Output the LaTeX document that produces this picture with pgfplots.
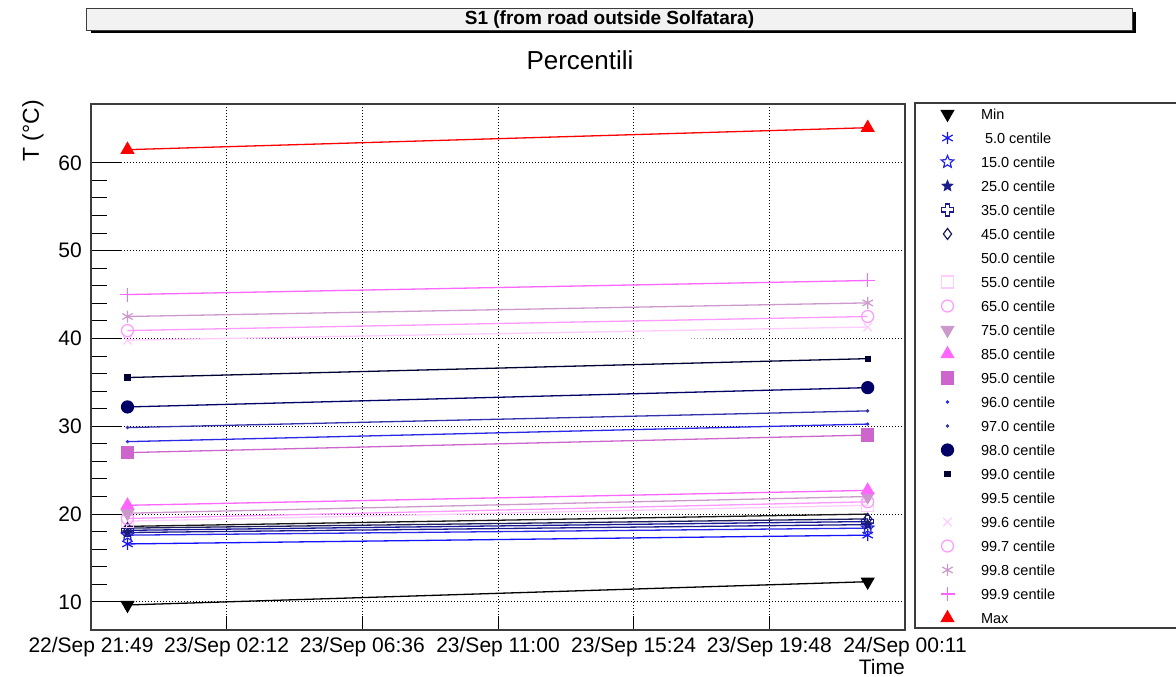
\documentclass[border=0pt]{standalone}
\usepackage{fontspec}
\setmainfont{Liberation Sans}
\usepackage{pgfplots}
\pgfplotsset{compat=1.18}
\usetikzlibrary{plotmarks,calc}

\definecolor{c5}{RGB}{20,20,255}
\definecolor{c15}{RGB}{40,40,230}
\definecolor{c25}{RGB}{28,28,140}
\definecolor{c35}{RGB}{25,25,150}
\definecolor{c45}{RGB}{30,30,90}
\definecolor{c50}{RGB}{25,25,25}
\definecolor{c55}{RGB}{255,204,255}
\definecolor{c65}{RGB}{255,153,255}
\definecolor{c75}{RGB}{204,153,204}
\definecolor{c85}{RGB}{255,102,255}
\definecolor{c95}{RGB}{204,102,204}
\definecolor{c96}{RGB}{40,40,230}
\definecolor{c97}{RGB}{50,50,170}
\definecolor{c98}{RGB}{0,0,102}
\definecolor{c99}{RGB}{0,0,51}
\definecolor{titlefill}{RGB}{242,242,242}
\definecolor{framec}{RGB}{60,60,60}

\pgfdeclareplotmark{ocross}{%
  \pgfpathmoveto{\pgfqpoint{-0.35\pgfplotmarksize}{\pgfplotmarksize}}%
  \pgfpathlineto{\pgfqpoint{0.35\pgfplotmarksize}{\pgfplotmarksize}}%
  \pgfpathlineto{\pgfqpoint{0.35\pgfplotmarksize}{0.35\pgfplotmarksize}}%
  \pgfpathlineto{\pgfqpoint{\pgfplotmarksize}{0.35\pgfplotmarksize}}%
  \pgfpathlineto{\pgfqpoint{\pgfplotmarksize}{-0.35\pgfplotmarksize}}%
  \pgfpathlineto{\pgfqpoint{0.35\pgfplotmarksize}{-0.35\pgfplotmarksize}}%
  \pgfpathlineto{\pgfqpoint{0.35\pgfplotmarksize}{-\pgfplotmarksize}}%
  \pgfpathlineto{\pgfqpoint{-0.35\pgfplotmarksize}{-\pgfplotmarksize}}%
  \pgfpathlineto{\pgfqpoint{-0.35\pgfplotmarksize}{-0.35\pgfplotmarksize}}%
  \pgfpathlineto{\pgfqpoint{-\pgfplotmarksize}{-0.35\pgfplotmarksize}}%
  \pgfpathlineto{\pgfqpoint{-\pgfplotmarksize}{0.35\pgfplotmarksize}}%
  \pgfpathlineto{\pgfqpoint{-0.35\pgfplotmarksize}{0.35\pgfplotmarksize}}%
  \pgfpathclose
  \pgfusepathqstroke
}
\def\starpath{%
  \pgfpathmoveto{\pgfqpoint{0pt}{\pgfplotmarksize}}%
  \pgfpathlineto{\pgfqpoint{-0.2645\pgfplotmarksize}{0.3641\pgfplotmarksize}}%
  \pgfpathlineto{\pgfqpoint{-0.9511\pgfplotmarksize}{0.3090\pgfplotmarksize}}%
  \pgfpathlineto{\pgfqpoint{-0.4280\pgfplotmarksize}{-0.1391\pgfplotmarksize}}%
  \pgfpathlineto{\pgfqpoint{-0.5878\pgfplotmarksize}{-0.8090\pgfplotmarksize}}%
  \pgfpathlineto{\pgfqpoint{0pt}{-0.45\pgfplotmarksize}}%
  \pgfpathlineto{\pgfqpoint{0.5878\pgfplotmarksize}{-0.8090\pgfplotmarksize}}%
  \pgfpathlineto{\pgfqpoint{0.4280\pgfplotmarksize}{-0.1391\pgfplotmarksize}}%
  \pgfpathlineto{\pgfqpoint{0.9511\pgfplotmarksize}{0.3090\pgfplotmarksize}}%
  \pgfpathlineto{\pgfqpoint{0.2645\pgfplotmarksize}{0.3641\pgfplotmarksize}}%
  \pgfpathclose}
\pgfdeclareplotmark{ostar}{\starpath\pgfusepathqstroke}
\pgfdeclareplotmark{fstar}{\starpath\pgfusepathqfillstroke}

\begin{document}
\begin{tikzpicture}[x=1pt,y=1pt]
\begin{axis}[
  scale only axis,
  width=814pt, height=526pt,
  xmin=0, xmax=6, ymin=6.8, ymax=66.7,
  xtick={0,1,2,3,4,5,6},
  xticklabels={22/Sep 21:49, 23/Sep 02:12, 23/Sep 06:36, 23/Sep 11:00, 23/Sep 15:24, 23/Sep 19:48, 24/Sep 00:11},
  ytick={10,20,30,40,50,60},
  minor y tick num=4,
  xtick pos=left, ytick pos=left,
  tick align=inside,
  major tick length=30pt, minor tick length=16pt,
  xtick style={/pgfplots/major tick length=14pt},
  tick style={black, line width=1pt},
  axis line style={draw=framec, line width=1.2pt},
  grid=major,
  major grid style={black, line width=0.9pt, dash pattern=on 1pt off 2pt},
  /pgf/number format/assume math mode=true,
  ticklabel style={font=\fontsize{21}{25}\selectfont},
  yticklabel style={inner sep=0pt, xshift=-9pt},
  xticklabel style={inner sep=0pt, yshift=-7pt},
  ylabel={T (°C)}, xlabel={Time},
  every axis y label/.style={at={(rel axis cs:-0.07125,1.0076)}, rotate=90, anchor=east, inner sep=0pt, font=\fontsize{23}{27}\selectfont},
  every axis x label/.style={at={(rel axis cs:1,-0.0703)}, anchor=east, inner sep=0pt, font=\fontsize{21}{25}\selectfont},
  legend style={at={(rel axis cs:1.04361,0.99525)}, anchor=north west, draw=none, fill=none,
    inner sep=0pt, outer sep=0pt, font=\fontsize{14.5}{17}\selectfont,
    row sep=9pt, column sep=26.5pt,
    nodes={inner sep=0pt, text height=12.7pt, text depth=2.3pt}},
  legend cell align=left,
  legend image code/.code={\draw[#1] plot[only marks] coordinates {(0pt,0pt)};},
  every axis plot/.append style={line width=1.3pt, mark options={line width=1.2pt}},
]
\coordinate (O) at (rel axis cs:0,0);
\addplot[black, mark=triangle*, mark size=7pt, mark options={rotate=180}] coordinates {(0.269,9.65) (5.725,12.3)};
\addlegendentry{Min}
\addplot[c5, mark=asterisk, mark size=6pt] coordinates {(0.269,16.6) (5.725,17.6)};
\addlegendentry{\ 5.0 centile}
\addplot[c15, mark=ostar, mark size=6.5pt] coordinates {(0.269,17.6) (5.725,18.4)};
\addlegendentry{15.0 centile}
\addplot[c25, mark=fstar, mark size=5pt, mark options={fill=c25}] coordinates {(0.269,17.9) (5.725,18.8)};
\addlegendentry{25.0 centile}
\addplot[c35, mark=ocross, mark size=6pt] coordinates {(0.269,18.15) (5.725,19.15)};
\addlegendentry{35.0 centile}
\addplot[c45, mark=diamond, mark size=5.5pt] coordinates {(0.269,18.4) (5.725,19.45)};
\addlegendentry{45.0 centile}
\addplot[c50, mark=none] coordinates {(0.269,18.6) (5.725,20.0)};
\addlegendentry{50.0 centile}
\addplot[c55, mark=square, mark size=6pt] coordinates {(0.269,19.2) (5.725,21.0)};
\addlegendentry{55.0 centile}
\addplot[c65, mark=o, mark size=6pt] coordinates {(0.269,19.5) (5.725,21.4)};
\addlegendentry{65.0 centile}
\addplot[c75, mark=triangle*, mark size=7pt, mark options={rotate=180}] coordinates {(0.269,20.1) (5.725,22.0)};
\addlegendentry{75.0 centile}
\addplot[c85, mark=triangle*, mark size=7pt] coordinates {(0.269,21.0) (5.725,22.7)};
\addlegendentry{85.0 centile}
\addplot[c95, mark=square*, mark size=6pt] coordinates {(0.269,27.0) (5.725,29.0)};
\addlegendentry{95.0 centile}
\addplot[c96, mark=*, mark size=1pt] coordinates {(0.269,28.25) (5.725,30.25)};
\addlegendentry{96.0 centile}
\addplot[c97, mark=*, mark size=1pt] coordinates {(0.269,29.85) (5.725,31.75)};
\addlegendentry{97.0 centile}
\addplot[c98, mark=*, mark size=6pt] coordinates {(0.269,32.2) (5.725,34.4)};
\addlegendentry{98.0 centile}
\addplot[c99, mark=square*, mark size=2.5pt] coordinates {(0.269,35.55) (5.725,37.7)};
\addlegendentry{99.0 centile}
\addplot[white, mark=none] coordinates {(0.269,38.9) (5.725,40.4)};
\addlegendentry{99.5 centile}
\addplot[c55, mark=x, mark size=6pt] coordinates {(0.269,39.8) (5.725,41.3)};
\addlegendentry{99.6 centile}
\addplot[c65, mark=o, mark size=6pt] coordinates {(0.269,40.9) (5.725,42.5)};
\addlegendentry{99.7 centile}
\addplot[c75, mark=asterisk, mark size=6pt] coordinates {(0.269,42.5) (5.725,44.05)};
\addlegendentry{99.8 centile}
\addplot[c85, mark=+, mark size=7pt] coordinates {(0.269,45.0) (5.725,46.6)};
\addlegendentry{99.9 centile}
\addplot[red, mark=triangle*, mark size=7pt] coordinates {(0.269,61.5) (5.725,64.0)};
\addlegendentry{Max}
\end{axis}
\pgfresetboundingbox
\begin{scope}[shift={($(O)+(-91,-47)$)}]
\useasboundingbox (0,0) rectangle (1176,677);
% title box
\fill[black] (91,643.5) rectangle (1135.5,665);
\draw[fill=titlefill, draw=framec, line width=1pt] (87,646) rectangle (1132,668);
\node[font=\fontsize{19}{22}\selectfont\bfseries, inner sep=0pt] at (609.5,657) {S1 (from road outside Solfatara)};
\node[font=\fontsize{26}{30}\selectfont, inner sep=0pt] at (580,617) {Percentili};
% legend frame
\draw[draw=framec, line width=1.2pt] (1180,574) -- (915,574) -- (915,49) -- (1180,49);
\end{scope}
\end{tikzpicture}
\end{document}
